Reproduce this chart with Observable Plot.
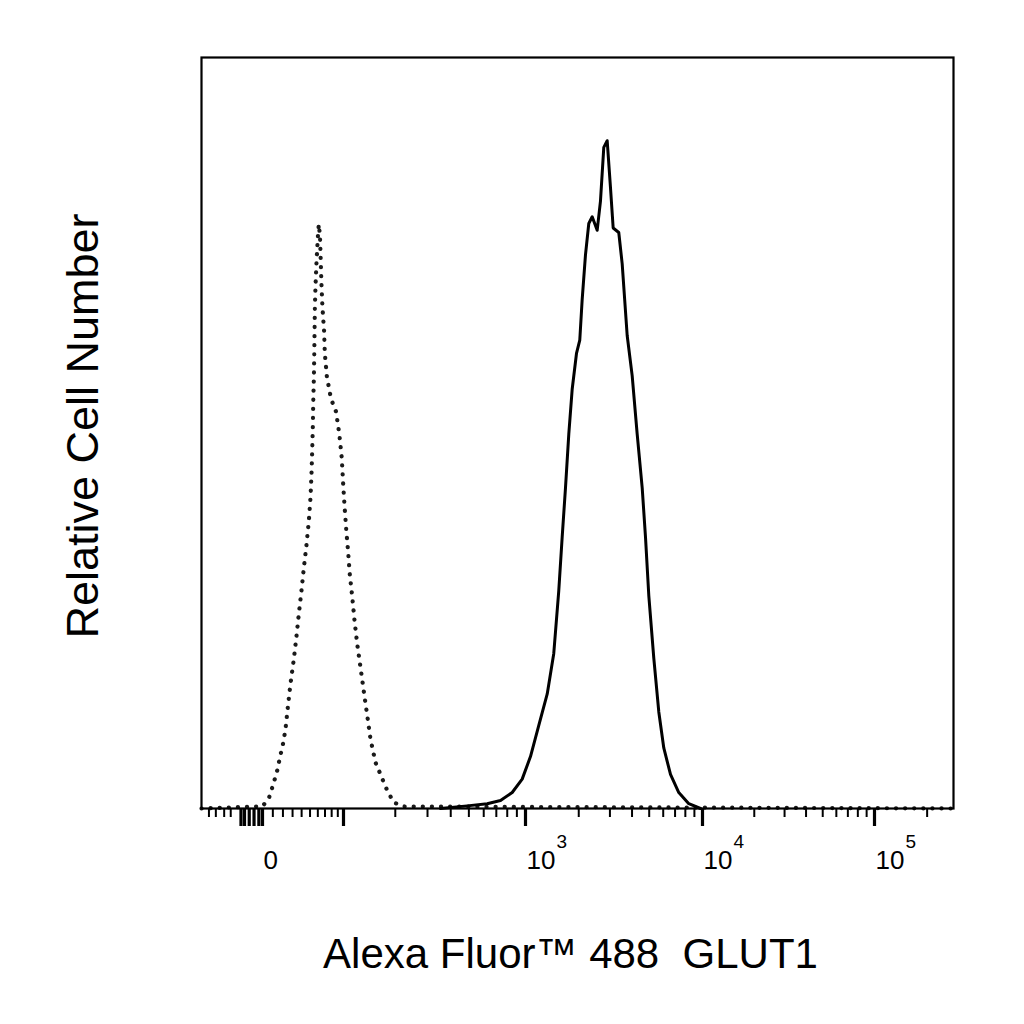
<!DOCTYPE html>
<html>
<head>
<meta charset="utf-8">
<script src="https://cdn.jsdelivr.net/npm/d3@7"></script>
<script src="https://cdn.jsdelivr.net/npm/@observablehq/plot@0.6"></script>
<style>
  html, body { margin: 0; padding: 0; background: #fff; }
  #chart { width: 1024px; height: 1024px; }
</style>
</head>
<body>
<div id="chart"></div>
<script>
// Isotype control (dotted) – fluorescence value and relative count
const isoX = [-56, 0, 6.07, 10.93, 14.27, 17.55, 20.27, 22.61, 24.98, 27.81, 31.32, 34.26, 36.80, 39.85, 42.50, 45.69, 48.47, 50.58, 51.83, 52.72, 53.50, 54.01, 54.79, 55.32, 55.71, 56.11, 57.04, 58.37, 60.14, 61.3, 62.92, 63.91, 64.90, 66.34, 68.67, 69.70, 72.69, 78.86, 86.96, 92.59, 96.85, 99.45, 101.45, 103.94, 106.92, 109.36, 113.08, 116.75, 121.17, 126.75, 132.53, 138.70, 144.93, 154.83, 165.28, 180.27, 196.2, 222.8, 283000];
const isoY = [0, 0.3, 1.33, 3.46, 5.06, 7.14, 8.72, 10.56, 13.45, 16.64, 19.84, 22.96, 25.86, 29.03, 31.96, 35.09, 38.24, 41.41, 44.61, 47.74, 50.91, 54.06, 57.26, 60.40, 63.56, 66.71, 69.91, 73.05, 76.22, 77.79, 76.22, 73.05, 69.91, 66.71, 63.56, 60.65, 57.52, 54.59, 52.86, 49.85, 46.68, 43.14, 40.35, 37.19, 34.03, 31.16, 28.23, 25.06, 21.90, 18.77, 15.58, 12.41, 9.24, 6.13, 4.53, 2.40, 0.80, 0.27, 0];

// GLUT1 stained (solid)
const glutX = [352.5, 489.8, 626.1, 736.8, 850.0, 960.3, 1067, 1189, 1327, 1445, 1542, 1612, 1683, 1757, 1836, 1942, 2027, 2091, 2183, 2279, 2382, 2542, 2653, 2770, 2895, 3022, 3130, 3366, 3519, 3755, 4008, 4277, 4565, 4765, 4974, 5308, 5665, 6045, 6596, 7347, 8368, 9743];
const glutY = [0, 0.35, 0.64, 1.07, 2.13, 3.91, 6.92, 11.08, 15.26, 20.64, 28.97, 36.14, 42.69, 49.85, 55.82, 60.59, 62.38, 67.75, 73.72, 77.90, 78.79, 76.99, 80.88, 88.03, 88.92, 82.66, 77.30, 76.70, 72.52, 62.98, 57.60, 49.85, 42.69, 36.14, 28.36, 20.03, 12.86, 8.06, 4.53, 2.13, 0.64, 0];

// Axis ticks and labels (fluorescence values)
const majorTicks = [-18, -15, -11, -7, -3, 0, 100, 1000, 10000, 100000];
const minorTicks = [-48, -41, -33, -27, 10, 20, 30, 40, 50, 60, 70, 80, 90,
  200, 300, 400, 500, 600, 700, 800, 900,
  2000, 3000, 4000, 5000, 6000, 7000, 8000, 9000,
  20000, 30000, 40000, 50000, 60000, 70000, 80000, 90000, 200000];
const labelValues = [0, 1000, 10000, 100000];
const labelBases = ["0", "10", "10", "10"];
const labelExps = ["", "3", "4", "5"];

const xTitle = "Alexa Fluor\u2122 488\u00a0\u00a0GLUT1";
const yTitle = "Relative Cell Number";

// biexponential-like display scale (asinh) with anchors at the decade ticks
const xBreaks = [-56, 0, 100, 1000, 10000, 100000, 283000];
const xBreakPx = [201, 262, 343, 525, 702, 874, 953];
const C = 62.3;
const f = v => Math.asinh(v / C);

const iso = isoX.map((v, i) => ({v, n: isoY[i]}));
const glut = glutX.map((v, i) => ({v, n: glutY[i]}));
const labels = labelValues.map((v, i) => ({v, base: labelBases[i], exp: labelExps[i]}));

const font = "'Liberation Sans', Arial, Helvetica, sans-serif";

const chart = Plot.plot({
  width: 1024,
  height: 1024,
  marginLeft: 201,
  marginRight: 71,
  marginTop: 57,
  marginBottom: 216,
  style: {fontFamily: font, background: "#fff", color: "#000"},
  x: {type: "linear", domain: xBreaks.map(f), range: xBreakPx, axis: null},
  y: {domain: [0, 100], axis: null},
  marks: [
    Plot.line(iso, {x: d => f(d.v), y: "n", stroke: "#1a1a1a", strokeWidth: 4.2,
      strokeDasharray: "0.1 9", strokeLinecap: "round", curve: "linear"}),
    Plot.line(glut, {x: d => f(d.v), y: "n", stroke: "#000", strokeWidth: 3,
      strokeLinejoin: "round", curve: "linear"}),
    Plot.frame({stroke: "#000", strokeWidth: 2.2}),
    Plot.axisX(minorTicks.map(f), {tickSize: 9, strokeWidth: 2, fill: "none", label: null}),
    Plot.axisX(majorTicks.map(f), {tickSize: 18, strokeWidth: 3.2, fill: "none", label: null}),
    Plot.text(labels, {x: d => f(d.v), text: "base", frameAnchor: "bottom", lineAnchor: "top",
      textAnchor: "start", dx: 1, dy: 42, fontSize: 26, fill: "#000"}),
    Plot.text(labels, {x: d => f(d.v), text: "exp", frameAnchor: "bottom", lineAnchor: "top",
      textAnchor: "start", dx: 31, dy: 26, fontSize: 19, fill: "#000"}),
    Plot.text([xTitle], {text: d => d, frameAnchor: "bottom", lineAnchor: "bottom",
      textAnchor: "middle", dx: -7, dy: 159, fontSize: 42, fill: "#000"}),
    Plot.text([yTitle], {text: d => d, frameAnchor: "left", lineAnchor: "bottom",
      textAnchor: "middle", rotate: -90, dx: -104, dy: -7, fontSize: 45, fill: "#000"})
  ]
});

document.getElementById("chart").appendChild(chart);
</script>
</body>
</html>
